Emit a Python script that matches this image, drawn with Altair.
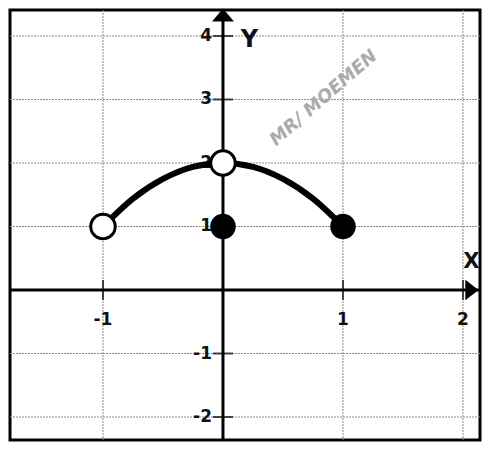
import altair as alt
import pandas as pd

# ---- data ----
grid_x = [-1, 0, 1, 2]
grid_y = [-2, -1, 0, 1, 2, 3, 4]
tick_x = [-1, 1, 2]
x_labels = ["-1", "1", "2"]
tick_y = [-2, -1, 1, 2, 3, 4]
y_labels = ["-2", "-1", "1", "2", "3", "4"]
curve_x = [-1, -0.75, -0.5, -0.25, 0, 0.25, 0.5, 0.75, 1]
curve_y = [1, 1.44, 1.75, 1.94, 2, 1.94, 1.75, 1.44, 1]
open_x = [-1, 0]
open_y = [1, 2]
filled_x = [0, 1]
filled_y = [1, 1]

XMIN, XMAX = -1.775, 2.142
YMIN, YMAX = -2.362, 4.409

xs = alt.Scale(domain=[XMIN, XMAX], nice=False, zero=False)
ys = alt.Scale(domain=[YMIN, YMAX], nice=False, zero=False)


def X(f):
    return alt.X(f, type="quantitative", scale=xs, axis=None)


def Y(f):
    return alt.Y(f, type="quantitative", scale=ys, axis=None)


FONT = "DejaVu Sans"

vgrid = alt.Chart(pd.DataFrame({"x": grid_x})).mark_rule(
    color="#8a8a8a", strokeWidth=1, strokeDash=[2, 1]
).encode(x=X("x"))
hgrid = alt.Chart(pd.DataFrame({"y": grid_y})).mark_rule(
    color="#8a8a8a", strokeWidth=1, strokeDash=[2, 1]
).encode(y=Y("y"))

xaxis = alt.Chart(pd.DataFrame({"y": [0]})).mark_rule(color="black", strokeWidth=3).encode(y=Y("y"))
yaxis = alt.Chart(pd.DataFrame({"x": [0]})).mark_rule(color="black", strokeWidth=3).encode(x=X("x"))

xt = pd.DataFrame({"x": tick_x, "y": [0] * len(tick_x), "label": x_labels, "ly": [-0.47] * len(tick_x)})
yt = pd.DataFrame({"y": tick_y, "x": [0] * len(tick_y), "label": y_labels})

xticks = alt.Chart(xt).mark_tick(orient="vertical", size=20, thickness=2, color="black").encode(x=X("x"), y=Y("y"))
yticks = alt.Chart(yt).mark_tick(orient="horizontal", size=20, thickness=2, color="black").encode(x=X("x"), y=Y("y"))

xlab = alt.Chart(xt).mark_text(
    font=FONT, fontSize=17, fontWeight="bold", color="#111", align="center", baseline="middle"
).encode(x=X("x"), y=Y("ly"), text="label")
ylab = alt.Chart(yt).mark_text(
    font=FONT, fontSize=17, fontWeight="bold", color="#111", align="right", baseline="middle", dx=-11
).encode(x=X("x"), y=Y("y"), text="label")

curve = alt.Chart(pd.DataFrame({"x": curve_x, "y": curve_y})).mark_line(
    color="black", strokeWidth=6, interpolate="monotone", strokeCap="round"
).encode(x=X("x"), y=Y("y"))

opens = alt.Chart(pd.DataFrame({"x": open_x, "y": open_y})).mark_point(
    shape="circle", filled=True, fill="white", stroke="black", strokeWidth=3, size=600, opacity=1
).encode(x=X("x"), y=Y("y"))
fills = alt.Chart(pd.DataFrame({"x": filled_x, "y": filled_y})).mark_point(
    shape="circle", filled=True, color="black", size=650, opacity=1
).encode(x=X("x"), y=Y("y"))

arrow_r = alt.Chart(pd.DataFrame({"x": [2.075], "y": [0]})).mark_point(
    shape="M0.65,0L-0.65,-1L-0.65,1Z", filled=True, color="black", size=420, opacity=1
).encode(x=X("x"), y=Y("y"))
arrow_u = alt.Chart(pd.DataFrame({"x": [0], "y": [4.33]})).mark_point(
    shape="M0,-0.6L1,0.6L-1,0.6Z", filled=True, color="black", size=480, opacity=1
).encode(x=X("x"), y=Y("y"))

ylabel = alt.Chart(pd.DataFrame({"x": [0.22], "y": [3.94], "t": ["Y"]})).mark_text(
    font=FONT, fontSize=24, fontWeight="bold", color="#0d1020", align="center", baseline="middle"
).encode(x=X("x"), y=Y("y"), text="t")
xlabel = alt.Chart(pd.DataFrame({"x": [2.07], "y": [0.44], "t": ["X"]})).mark_text(
    font=FONT, fontSize=21, fontWeight="bold", color="#111", align="center", baseline="middle"
).encode(x=X("x"), y=Y("y"), text="t")

wm = alt.Chart(pd.DataFrame({"x": [0.84], "y": [3.02], "t": ["MR/ MOEMEN"]})).mark_text(
    font=FONT, fontSize=18, fontWeight="bold", fontStyle="italic", color="#ababab",
    align="center", baseline="middle", angle=319
).encode(x=X("x"), y=Y("y"), text="t")

chart = alt.layer(
    vgrid, hgrid, wm, xaxis, yaxis, xticks, yticks, xlab, ylab, curve, opens, fills,
    arrow_r, arrow_u, ylabel, xlabel
).properties(
    width=470, height=430, padding=2,
    autosize=alt.AutoSizeParams(type="none"),
    background="white",
).configure_view(stroke="black", strokeWidth=3)

chart.save("out.html", embed_options={"renderer": "svg", "actions": False})
